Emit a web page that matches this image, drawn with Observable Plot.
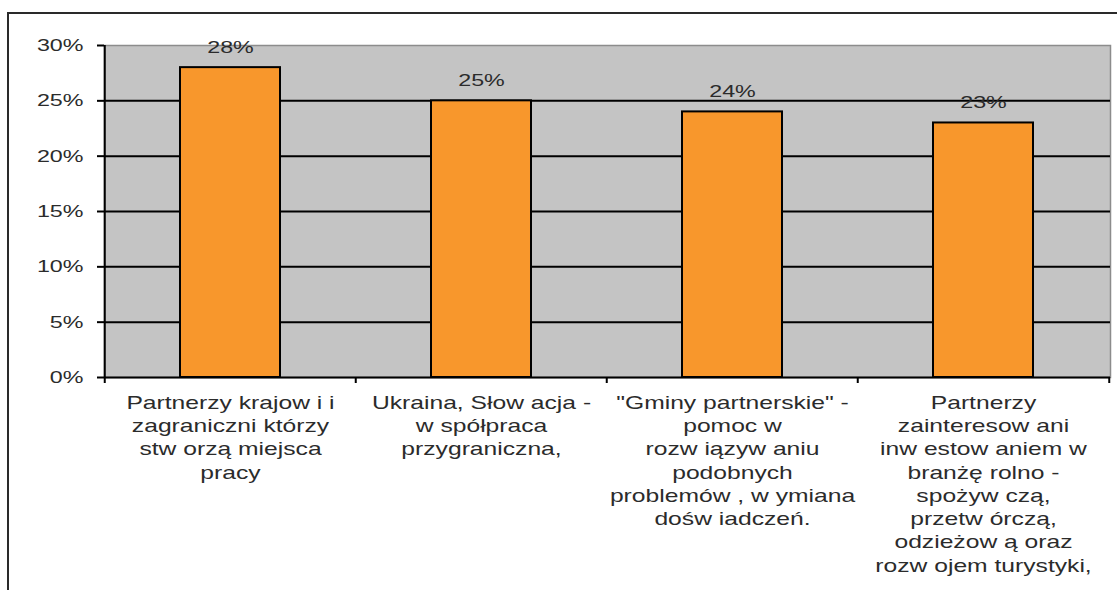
<!DOCTYPE html>
<html><head><meta charset="utf-8">
<script src="https://cdn.jsdelivr.net/npm/d3@7"></script>
<script src="https://cdn.jsdelivr.net/npm/@observablehq/plot@0.6"></script>
<style>
body{margin:0;background:#fff;}
#wrap{position:relative;width:1117px;height:590px;overflow:hidden;background:#fff;}
#wrap svg{position:absolute;left:0;top:0;}
#frame{position:absolute;left:7px;top:12px;width:1200px;height:700px;border:2px solid #2a2a2a;pointer-events:none;box-sizing:border-box;}
</style></head><body><div id="wrap"><div id="frame"></div></div>
<script>
const categoryLines = [
  ["Partnerzy krajow i i", "zagraniczni którzy", "stw orzą miejsca", "pracy"],
  ["Ukraina, Słow acja -", "w spółpraca", "przygraniczna,"],
  ["\"Gminy partnerskie\" -", "pomoc w", "rozw iązyw aniu", "podobnych", "problemów , w ymiana", "dośw iadczeń."],
  ["Partnerzy", "zainteresow ani", "inw estow aniem w", "branżę rolno -", "spożyw czą,", "przetw órczą,", "odzieżow ą oraz", "rozw ojem turystyki,"]
];
const values = [28, 25, 24, 23];
const yTicks = [0, 5, 10, 15, 20, 25, 30];
const gridValues = [5, 10, 15, 20, 25];

const categories = categoryLines.map(l => l.join("\n"));
const data = categories.map((c, i) => ({category: c, value: values[i]}));

const W = 1117, H = 590, ML = 104, MR = 7, MT = 45, MB = 213;
const step = (W - ML - MR) / categories.length;
const SX = 1.37;
const ink = "#2b2b2b";

const svg = Plot.plot({
  width: W, height: H,
  marginLeft: ML, marginRight: MR, marginTop: MT, marginBottom: MB,
  style: {fontFamily: "'Liberation Sans', Arial, sans-serif", fontSize: "17px", background: "transparent", overflow: "visible"},
  x: {type: "band", domain: categories, paddingInner: 0.6, paddingOuter: 0.3, axis: null},
  y: {domain: [0, 30], axis: null},
  marks: [
    Plot.frame({fill: "#c4c4c4", stroke: "#8c8c8c", strokeWidth: 1.5}),
    Plot.ruleY(gridValues, {stroke: "black", strokeWidth: 2}),
    Plot.barY(data, {x: "category", y: "value", fill: "#F8972C", stroke: "black", strokeWidth: 2}),
    Plot.ruleY([0], {stroke: "black", strokeWidth: 2}),
    Plot.ruleX([categories[0]], {dx: -step / 2, y1: 0, y2: 30, stroke: "black", strokeWidth: 2}),
    Plot.axisY({ticks: yTicks, tickFormat: d => d + "%", tickSize: 7, tickPadding: 14, stroke: "black", strokeWidth: 2, fontSize: 17, fill: ink, label: null}),
    Plot.axisX({tickSize: 6, dx: -step / 2, tickFormat: () => "", stroke: "black", strokeWidth: 2, label: null}),
    Plot.axisX({ticks: [categories[categories.length - 1]], tickSize: 6, dx: step / 2, tickFormat: () => "", stroke: "black", strokeWidth: 2, label: null}),
    Plot.axisX({tickSize: 0, tickPadding: 15, fontSize: 18, lineHeight: 1.29, fill: ink, label: null}),
    Plot.text(data, {x: "category", y: "value", text: d => d.value + "%", dy: -20, fontSize: 17, fill: ink})
  ]
});

d3.select(svg).selectAll("text").each(function() {
  const t = this.getAttribute("transform");
  if (t) this.setAttribute("transform", t + ` scale(${SX},1)`);
  else {
    const x = +this.getAttribute("x") || 0, y = +this.getAttribute("y") || 0;
    this.removeAttribute("x"); this.removeAttribute("y");
    this.setAttribute("transform", `translate(${x},${y}) scale(${SX},1)`);
  }
});

document.getElementById("wrap").insertBefore(svg, document.getElementById("frame"));
</script>
</body></html>
